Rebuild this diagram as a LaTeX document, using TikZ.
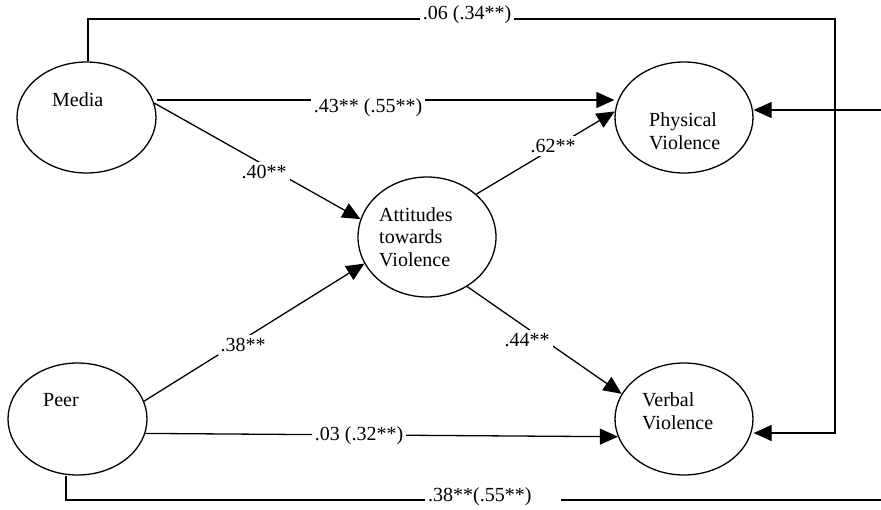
\documentclass[tikz,border=0pt]{standalone}
\usepackage{fontspec}
\setmainfont{Liberation Serif}
\usetikzlibrary{arrows.meta,calc,shapes.geometric}
\tikzset{
  ell/.style={draw, ellipse, inner sep=0pt, line width=1.3pt},
  conn/.style={line width=1.3pt},
  arr/.style={line width=1.3pt, -{Triangle[length=18pt,width=16pt]}},
  lab/.style={fill=white, inner sep=3pt, font=\fontsize{20}{22.5}\selectfont},
  txt/.style={inner sep=0pt, align=left, font=\fontsize{20}{22.5}\selectfont},
}
\begin{document}
\begin{tikzpicture}[x=1pt,y=-1pt]
\useasboundingbox (0,0) rectangle (881,509);
% ellipses
\node[ell, minimum width=139pt, minimum height=111pt] (media) at (86.5,117.5) {};
\node[ell, minimum width=139pt, minimum height=112pt] (peer) at (77.5,419) {};
\node[ell, minimum width=138pt, minimum height=120pt] (att) at (427,237) {};
\node[ell, minimum width=138pt, minimum height=111pt] (phys) at (684,117.5) {};
\node[ell, minimum width=138pt, minimum height=112pt] (verb) at (684,419) {};
% texts
\node[txt, anchor=base west] (tmedia) at (52,106) {Media};
\node[txt, anchor=base west] (tpeer) at (43,406) {Peer};
\node[txt, anchor=base west] (tatt) at (379,266) {Attitudes\\towards\\Violence};
\node[txt, anchor=base west] (tphys) at (649,149) {Physical\\Violence};
\node[txt, anchor=base west] (tverb) at (642,429) {Verbal\\Violence};
% free ends
\coordinate (tr) at (835,19);
\coordinate (rin) at (881,110);
\coordinate (br) at (881,500);
% connectors
\draw[arr] (media.north -| 88,0) |- (tr) |- (verb.east |- 0,433);
\draw[arr] (rin) -- (phys.east |- rin);
\draw[conn] (peer.south -| 66,0) |- (br);
\draw[arr] (media.east |- 0,100) -- (phys.west |- 0,100);
\draw[arr] (media.12) -- (att.165);
\draw[arr] (att.41) -- (phys.175);
\draw[arr] (att.309) -- (verb.158);
\draw[arr] (peer.15) -- (att.203);
\draw[arr] (peer.-12) -- (verb.195);
% labels
\node[lab] (l1) at (467,15) {.06 (.34**)};
\node[lab] (l2) at (368,108) {.43** (.55**)};
\node[lab] (l3) at (264,172) {.40**};
\node[lab] (l4) at (553,146) {.62**};
\node[lab] (l5) at (243,345) {.38**};
\node[lab] (l6) at (527,340) {.44**};
\node[lab] (l7) at (359,436) {.03 (.32**)};
\node[lab, anchor=west] (l8) at (425,497) {.38**(.55**)\hspace*{26pt}};
\end{tikzpicture}
\end{document}
